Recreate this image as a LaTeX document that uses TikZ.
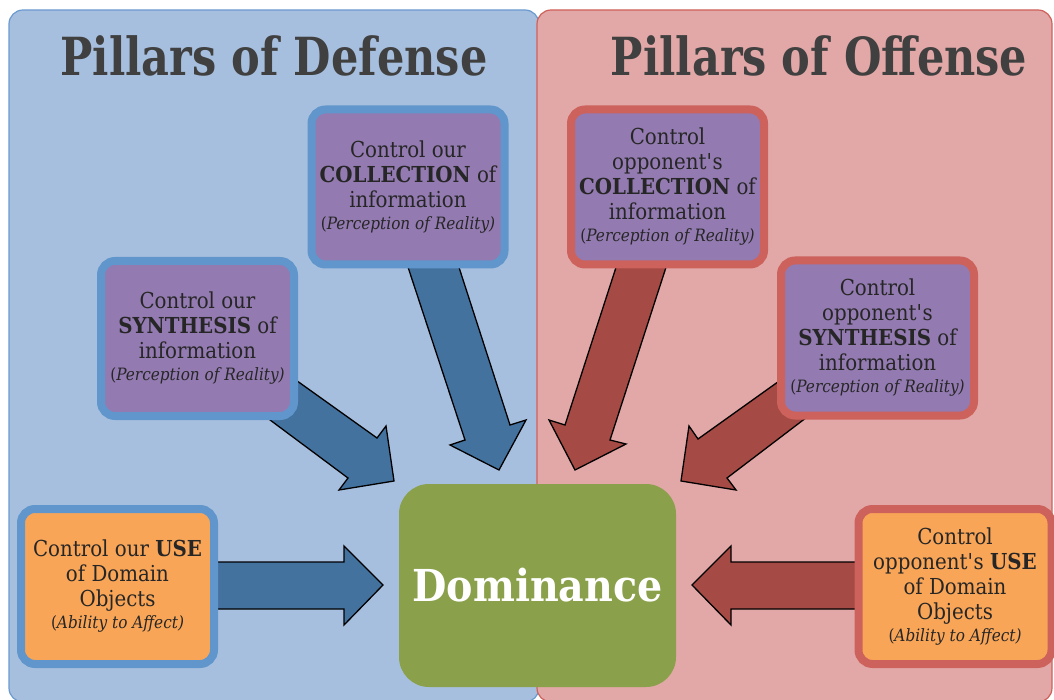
\documentclass[tikz,border=0pt]{standalone}
\usepackage{fontspec}
\setmainfont[FakeStretch=0.9]{DejaVu Serif}
\newfontfamily\titlefont[FakeStretch=0.82]{DejaVu Serif}
\definecolor{panelblue}{HTML}{A7BFDE}
\definecolor{panelblueline}{HTML}{6A9AD0}
\definecolor{panelred}{HTML}{E2A8A7}
\definecolor{panelredline}{HTML}{D0605A}
\definecolor{boxblue}{HTML}{6096CB}
\definecolor{boxred}{HTML}{CD625C}
\definecolor{purplefill}{HTML}{937AB1}
\definecolor{orangefill}{HTML}{F9A557}
\definecolor{arrowblue}{HTML}{44729F}
\definecolor{arrowred}{HTML}{A54A44}
\definecolor{greenfill}{HTML}{8AA04A}
\definecolor{textc}{HTML}{262626}
\definecolor{titlec}{HTML}{404040}
\newcommand\subline[1]{{\fontsize{17}{20}\selectfont(\textit{#1)}}}
\newcommand\opp{opponent\textquotesingle s}
\tikzset{
  panel/.style={rounded corners=14pt, line width=1.2pt},
  box/.style={rounded corners=14pt, line width=8pt, minimum width=193pt,
    minimum height=155pt, align=center, text=textc,
    font=\fontsize{22}{25}\selectfont, inner sep=0pt},
  defbox/.style={box, draw=boxblue},
  offbox/.style={box, draw=boxred},
  infobox/.style={fill=purplefill},
  usebox/.style={fill=orangefill},
  blockarrow/.style={draw=black, line width=1.3pt, line join=miter},
  bluearrow/.style={blockarrow, fill=arrowblue},
  redarrow/.style={blockarrow, fill=arrowred},
  titletext/.style={text=titlec, font=\titlefont\bfseries\fontsize{52.5}{58}\selectfont, anchor=base, inner sep=0pt},
}
\begin{document}
\begin{tikzpicture}[x=1pt,y=-1pt]
\useasboundingbox (0,0) rectangle (1054,700);
% panels
\draw[panel, fill=panelblue, draw=panelblueline] (9,10) rectangle (539,702);
\draw[panel, fill=panelred, draw=panelredline] (537,10) rectangle (1052,702);
% titles
\node[titletext] (tdef) at (274,76) {Pillars of Defense};
\node[titletext] (toff) at (819,76) {Pillars of Offense};
% block arrows
\draw[bluearrow] (404,255) -- (465,440) -- (450,445) -- (499,470) -- (526,420) -- (510,425) -- (455,255) -- cycle;
\draw[bluearrow] (286,373) -- (377,438) -- (386,426) -- (394,481) -- (339,490) -- (348,478) -- (258,411) -- cycle;
\draw[redarrow] (620,255) -- (565,425) -- (549,420) -- (575,470) -- (626,444) -- (610,440) -- (670,255) -- cycle;
\draw[redarrow] (789,374) -- (698,439) -- (689,426) -- (681,481) -- (736,490) -- (727,478) -- (815,411) -- cycle;
\draw[bluearrow] (210,562) -- (344,562) -- (344,546) -- (383,585) -- (344,625) -- (344,609) -- (210,609) -- cycle;
\draw[redarrow] (865,562) -- (731,562) -- (731,546) -- (692,585) -- (731,625) -- (731,609) -- (865,609) -- cycle;
% boxes
\node[defbox, infobox] (colldef) at (408,187) {Control our\\\textbf{COLLECTION} of\\information\\[-3pt]\subline{Perception of Reality}};
\node[offbox, infobox] (colloff) at (667.5,187) {Control\\\opp\\\textbf{COLLECTION} of\\information\\[-3pt]\subline{Perception of Reality}};
\node[defbox, infobox] (syndef) at (197.5,338.5) {Control our\\\textbf{SYNTHESIS} of\\information\\[-3pt]\subline{Perception of Reality}};
\node[offbox, infobox] (synoff) at (877.5,338) {Control\\\opp\\\textbf{SYNTHESIS} of\\information\\[-3pt]\subline{Perception of Reality}};
\node[defbox, usebox] (usedef) at (117.5,586.5) {Control our \textbf{USE}\\of Domain\\Objects\\[-3pt]\subline{Ability to Affect}};
\node[offbox, usebox] (useoff) at (955,586.5) {Control\\\opp{} \textbf{USE}\\of Domain\\Objects\\[-3pt]\subline{Ability to Affect}};
% center
\node[rounded corners=30pt, fill=greenfill, minimum width=277pt, minimum height=203pt,
  text=white, font=\bfseries\fontsize{44}{50}\selectfont, inner sep=0pt] (dom) at (537.5,585.5) {Dominance};
\end{tikzpicture}
\end{document}
